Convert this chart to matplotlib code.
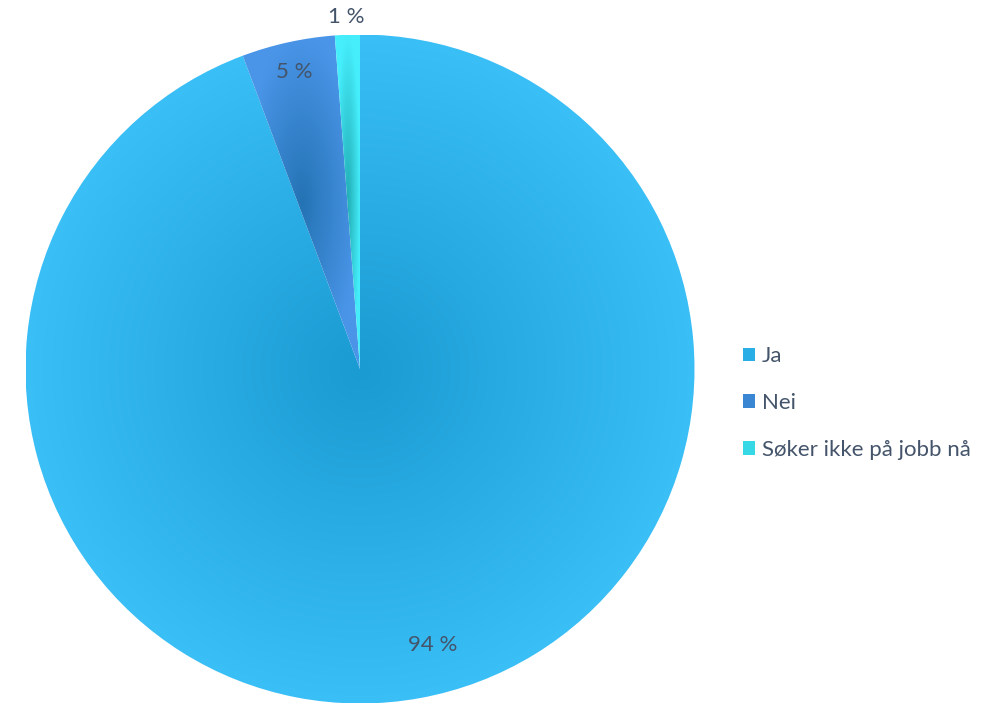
import numpy as np
import matplotlib
matplotlib.use('Agg')
import matplotlib.pyplot as plt
from matplotlib.patches import Patch

categories = ['Ja', 'Nei', 'Søker ikke på jobb nå']
values = [94.3, 4.5, 1.2]
pct_labels = ['94 %', '5 %', '1 %']

inner_colors = ['#1a9bd2', '#2473b4', '#22aeb6']
outer_colors = ['#3abff7', '#4a95e8', '#46eefc']
legend_colors = ['#2aaee6', '#3a86d2', '#36d8e6']
label_dist = [0.853, 0.91, 1.053]
label_ang_shift = [4.5, 0.0, 0.0]
text_color = '#44546A'

plt.rcParams['font.family'] = ['Lato', 'DejaVu Sans']

fig = plt.figure(figsize=(9.97, 7.05), dpi=100)
R = 334.5
cx_px, cy_px = 360, 369
ax = fig.add_axes([(cx_px - R) / 997, (705 - cy_px - R) / 705, 2 * R / 997, 2 * R / 705])

wedges, _ = ax.pie(values, startangle=90, counterclock=False, radius=1,
                   colors=['none'] * 3, wedgeprops=dict(linewidth=0, edgecolor='none'))
ax.set_xlim(-1, 1)
ax.set_ylim(-1, 1)
ax.set_aspect('equal')
ax.axis('off')

N = 800
xs = np.linspace(-1, 1, N)
X, Y = np.meshgrid(xs, xs)

def hex2rgb(h):
    h = h.lstrip('#')
    return np.array([int(h[i:i + 2], 16) / 255 for i in (0, 2, 4)])

for w, ci, co in zip(wedges, inner_colors, outer_colors):
    verts = w.get_path().vertices
    xmin, ymin = verts.min(axis=0)
    xmax, ymax = verts.max(axis=0)
    bx, by = (xmin + xmax) / 2, (ymin + ymax) / 2
    hx, hy = max((xmax - xmin) / 2, 1e-3), max((ymax - ymin) / 2, 1e-3)
    d = np.sqrt(((X - bx) / hx) ** 2 + ((Y - by) / hy) ** 2)
    d = np.clip(d, 0, 1)
    a, b = hex2rgb(ci), hex2rgb(co)
    img = a[None, None, :] * (1 - d[..., None]) + b[None, None, :] * d[..., None]
    im = ax.imshow(img, extent=(-1, 1, -1, 1), origin='lower', interpolation='bilinear', zorder=1)
    im.set_clip_path(w)

for w, lab, dist, sh in zip(wedges, pct_labels, label_dist, label_ang_shift):
    ang = np.deg2rad((w.theta1 + w.theta2) / 2 + sh)
    ax.text(dist * np.cos(ang), dist * np.sin(ang), lab, ha='center', va='center',
            fontsize=16, color=text_color, zorder=5, clip_on=False)

handles = [Patch(facecolor=c, edgecolor='none') for c in legend_colors]
fig.legend(handles, categories, loc='center left', bbox_to_anchor=(743 / 997, 1 - 403 / 705),
           frameon=False, fontsize=16, labelcolor=text_color, handlelength=0.55,
           handleheight=0.55, handletextpad=0.3, labelspacing=1.2, borderaxespad=0, borderpad=0)

fig.savefig('out.png', dpi=100)
